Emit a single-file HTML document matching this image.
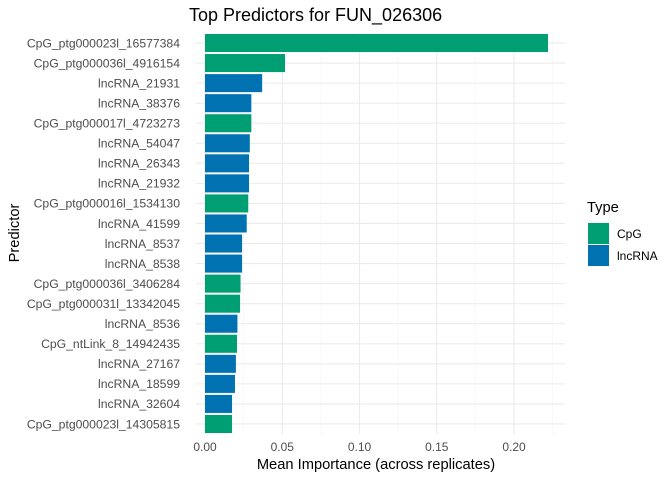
<!DOCTYPE html>
<html><head><meta charset="utf-8"><style>
body{margin:0;background:#fff;font-family:"Liberation Sans",sans-serif;}
svg text{font-family:"Liberation Sans",sans-serif;}
</style></head><body>
<svg id="chart" width="672" height="480" xmlns="http://www.w3.org/2000/svg"></svg>
<script>
const predictors=["CpG_ptg000023l_16577384","CpG_ptg000036l_4916154","lncRNA_21931","lncRNA_38376","CpG_ptg000017l_4723273","lncRNA_54047","lncRNA_26343","lncRNA_21932","CpG_ptg000016l_1534130","lncRNA_41599","lncRNA_8537","lncRNA_8538","CpG_ptg000036l_3406284","CpG_ptg000031l_13342045","lncRNA_8536","CpG_ntLink_8_14942435","lncRNA_27167","lncRNA_18599","lncRNA_32604","CpG_ptg000023l_14305815"];
const importance=[0.222,0.0518,0.037,0.030,0.030,0.029,0.0285,0.0285,0.028,0.027,0.024,0.024,0.023,0.0227,0.021,0.0207,0.020,0.0194,0.0175,0.0175];
const types=["CpG","CpG","lncRNA","lncRNA","CpG","lncRNA","lncRNA","lncRNA","CpG","lncRNA","lncRNA","lncRNA","CpG","CpG","lncRNA","CpG","lncRNA","lncRNA","lncRNA","CpG"];
const xTicks=[0,0.05,0.10,0.15,0.20];
const xTickLabels=["0.00","0.05","0.10","0.15","0.20"];
const colors={CpG:"#009E73",lncRNA:"#0072B2"};
const svg=document.getElementById('chart');
const NS="http://www.w3.org/2000/svg";
function mk(t,a,txt){const e=document.createElementNS(NS,t);for(const k in a)e.setAttribute(k,a[k]);if(txt!==undefined)e.textContent=txt;svg.appendChild(e);return e;}
const pL=196,pR=565,pT=33,pB=434;
const x=v=>205+v*1545;
const step=(pB-pT)/predictors.length;
const y=i=>pT+step*(i+0.5);
for(let i=0;i<xTicks.length;i++){const m=xTicks[i]+0.025;if(x(m)<pR){const l=mk('line',{x1:x(m),x2:x(m),y1:pT,y2:pB,stroke:'#f3f3f3','stroke-width':0.6});}}
xTicks.forEach((t,i)=>{const l=mk('line',{x1:x(t),x2:x(t),y1:pT,y2:pB,stroke:'#ebebeb','stroke-width':1.1});
const tx=mk('text',{x:x(t),y:451,'font-size':12,fill:'#4d4d4d','text-anchor':'middle'},xTickLabels[i]);});
predictors.forEach((p,i)=>{const l=mk('line',{x1:pL,x2:pR,y1:y(i),y2:y(i),stroke:'#ebebeb','stroke-width':1.1});});
predictors.forEach((p,i)=>{const h=step*0.9;
const r=mk('rect',{x:x(0),y:y(i)-h/2,width:x(importance[i])-x(0),height:h,fill:colors[types[i]]});
const t=mk('text',{x:180,y:y(i)+4.3,'font-size':12.2,fill:'#4d4d4d','text-anchor':'end'},p);});
let e;
e=mk('text',{x:189,y:21,'font-size':18,fill:'#000','text-anchor':'start'},'Top Predictors for FUN_026306');
e=mk('text',{x:376,y:469,'font-size':14.7,fill:'#000','text-anchor':'middle'},'Mean Importance (across replicates)');
e=mk('text',{x:19,y:233,'font-size':14.7,fill:'#000','text-anchor':'middle',transform:'rotate(-90 19 233)'},'Predictor');
e=mk('text',{x:587,y:212,'font-size':14.7,fill:'#000'},'Type');
["CpG","lncRNA"].forEach((k,i)=>{const r=mk('rect',{x:588,y:223+i*22,width:21,height:21,fill:colors[k]});
const t=mk('text',{x:617,y:238+i*22,'font-size':12,fill:'#000'},k);});
</script>
</body></html>
